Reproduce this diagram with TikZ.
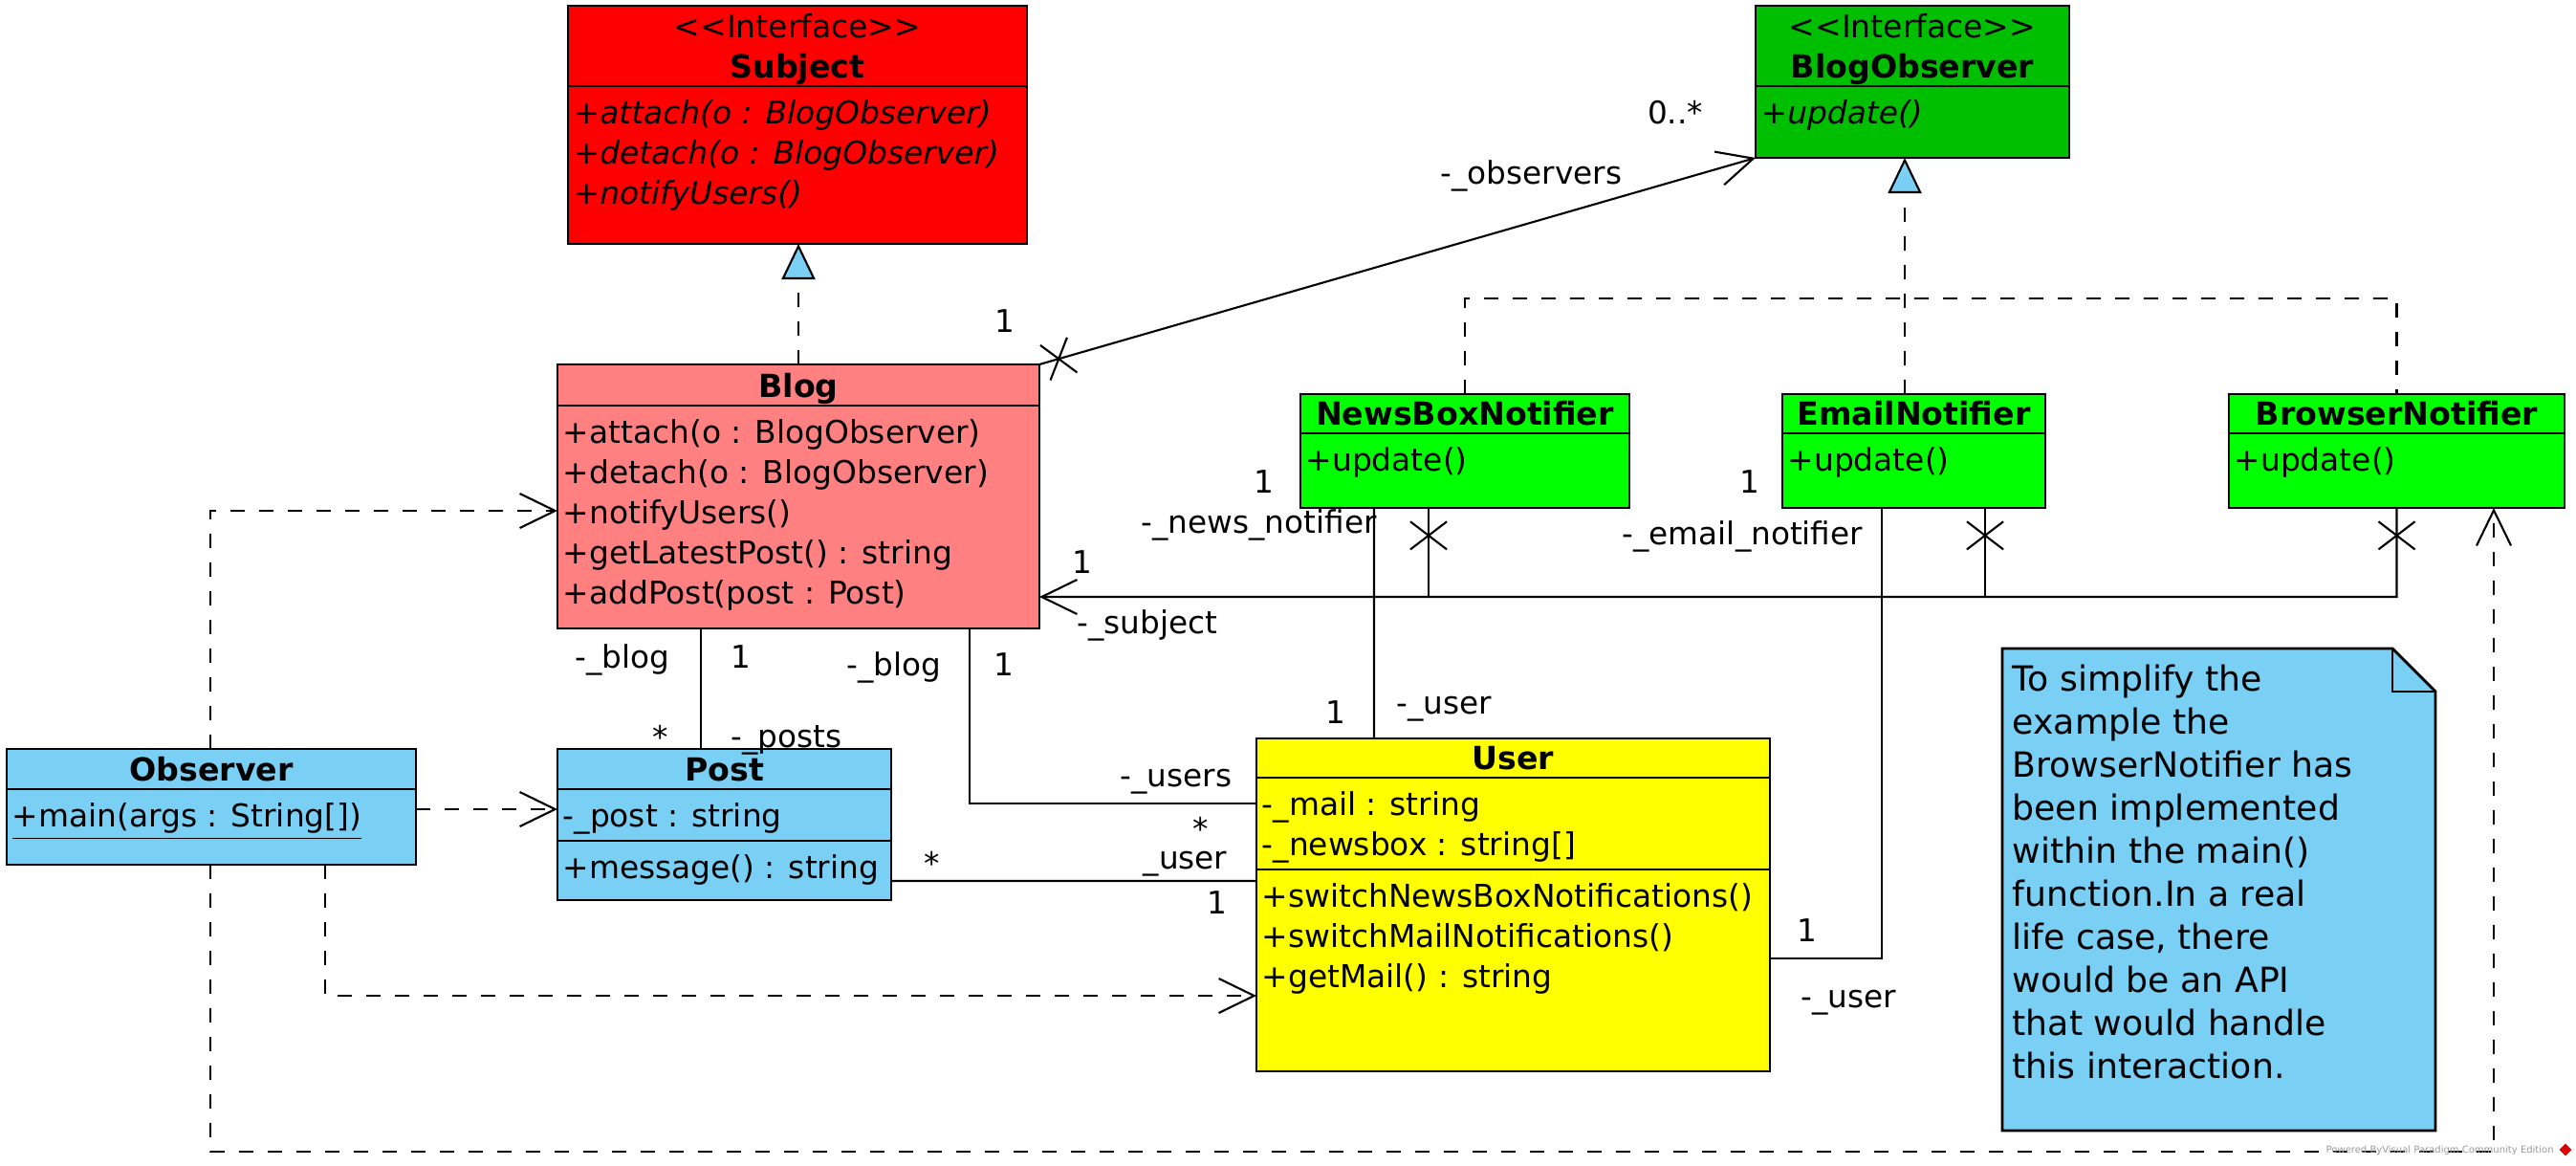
\documentclass[tikz,border=0pt]{standalone}
\usepackage{fontspec}
\usepackage{tikz}
\usepackage{xcolor}
\usetikzlibrary{arrows.meta,shapes.misc}
\newfontfamily\umlfont{DejaVu Sans}
\definecolor{subject-red}{RGB}{255,0,0}
\definecolor{blog-pink}{RGB}{255,128,128}
\definecolor{observer-green}{RGB}{0,191,0}
\definecolor{notifier-green}{RGB}{0,255,0}
\definecolor{user-yellow}{RGB}{255,255,0}
\definecolor{sky-blue}{RGB}{122,207,245}
\tikzset{
    class-box/.style = {draw, line width=0.8pt, rectangle, inner sep=0pt, outer sep=0pt, anchor=north west},
    class-rule/.style = {line width=0.8pt},
    class-title/.style = {font=\umlfont\bfseries\fontsize{9.45}{11.95}\selectfont, anchor=base, inner sep=0pt},
    class-stereo/.style = {font=\umlfont\fontsize{9.4}{11.95}\selectfont, anchor=base, inner sep=0pt},
    class-text/.style = {font=\umlfont\fontsize{9.35}{11.95}\selectfont, align=left, anchor=north west, inner sep=0pt},
    end-label/.style = {font=\umlfont\fontsize{9.3}{11.95}\selectfont, anchor=base, inner sep=0pt},
    role-label/.style = {end-label, anchor=base west},
    note-text/.style = {font=\umlfont\fontsize{10.3}{12.8}\selectfont, align=left, anchor=north west, inner sep=0pt},
    dep-line/.style = {line width=0.6pt, dash pattern=on 0.15cm off 0.15cm, -{Straight Barb[length=3.7mm,width=3.6mm]}},
    real-line/.style = {line width=0.6pt, dash pattern=on 0.15cm off 0.15cm, -{Triangle[length=3.7mm,width=3.5mm,fill=sky-blue]}},
    assoc-line/.style = {line width=0.6pt},
    assoc-arrow/.style = {line width=0.6pt, -{Straight Barb[length=3.7mm,width=3.6mm]}},
    x-end/.style = {draw, cross out, sloped, line width=0.6pt, inner sep=0pt, minimum width=0.27cm, minimum height=0.36cm},
}

\begin{document}
\begin{tikzpicture}
\useasboundingbox (0,0) rectangle (26.94,-12.18);

% interfaces
\node[class-box, fill=subject-red, minimum width=4.80cm, minimum height=2.49cm] (subject) at (5.94,-0.06) {};
\draw[class-rule] ([yshift=-0.84cm]subject.north west) -- ([yshift=-0.84cm]subject.north east);
\node[class-stereo] (subject-stereo) at ([yshift=-0.33cm]subject.north) {<<Interface>>};
\node[class-title] (subject-title) at ([yshift=-0.75cm]subject.north) {Subject};
\node[class-text, font=\umlfont\itshape\fontsize{9.35}{11.95}\selectfont] (subject-ops) at ([shift={(0.05,-0.98)}]subject.north west)
    {+attach(o : BlogObserver)\\+detach(o : BlogObserver)\\+notifyUsers()};

\node[class-box, fill=observer-green, minimum width=3.28cm, minimum height=1.59cm] (blog-observer) at (18.36,-0.06) {};
\draw[class-rule] ([yshift=-0.84cm]blog-observer.north west) -- ([yshift=-0.84cm]blog-observer.north east);
\node[class-stereo] (blog-observer-stereo) at ([yshift=-0.33cm]blog-observer.north) {<<Interface>>};
\node[class-title] (blog-observer-title) at ([yshift=-0.75cm]blog-observer.north) {BlogObserver};
\node[class-text, font=\umlfont\itshape\fontsize{9.35}{11.95}\selectfont] (blog-observer-ops) at ([shift={(0.05,-0.98)}]blog-observer.north west) {+update()};

% blog
\node[class-box, fill=blog-pink, minimum width=5.04cm, minimum height=2.76cm] (blog) at (5.83,-3.81) {};
\draw[class-rule] ([yshift=-0.43cm]blog.north west) -- ([yshift=-0.43cm]blog.north east);
\node[class-title] (blog-title) at ([yshift=-0.34cm]blog.north) {Blog};
\node[class-text] (blog-ops) at ([shift={(0.05,-0.57)}]blog.north west)
    {+attach(o : BlogObserver)\\+detach(o : BlogObserver)\\+notifyUsers()\\+getLatestPost() : string\\+addPost(post : Post)};

% notifiers
\node[class-box, fill=notifier-green, minimum width=3.44cm, minimum height=1.19cm] (news-box) at (13.60,-4.12) {};
\draw[class-rule] ([yshift=-0.41cm]news-box.north west) -- ([yshift=-0.41cm]news-box.north east);
\node[class-title] (news-box-title) at ([yshift=-0.32cm]news-box.north) {NewsBoxNotifier};
\node[class-text] (news-box-ops) at ([shift={(0.05,-0.55)}]news-box.north west) {+update()};

\node[class-box, fill=notifier-green, minimum width=2.75cm, minimum height=1.19cm] (email) at (18.64,-4.12) {};
\draw[class-rule] ([yshift=-0.41cm]email.north west) -- ([yshift=-0.41cm]email.north east);
\node[class-title] (email-title) at ([yshift=-0.32cm]email.north) {EmailNotifier};
\node[class-text] (email-ops) at ([shift={(0.05,-0.55)}]email.north west) {+update()};

\node[class-box, fill=notifier-green, minimum width=3.51cm, minimum height=1.19cm] (browser) at (23.31,-4.12) {};
\draw[class-rule] ([yshift=-0.41cm]browser.north west) -- ([yshift=-0.41cm]browser.north east);
\node[class-title] (browser-title) at ([yshift=-0.32cm]browser.north) {BrowserNotifier};
\node[class-text] (browser-ops) at ([shift={(0.05,-0.55)}]browser.north west) {+update()};

% observer, post, user
\node[class-box, fill=sky-blue, minimum width=4.28cm, minimum height=1.21cm] (observer) at (0.07,-7.83) {};
\draw[class-rule] ([yshift=-0.42cm]observer.north west) -- ([yshift=-0.42cm]observer.north east);
\node[class-title] (observer-title) at ([yshift=-0.33cm]observer.north) {Observer};
\node[class-text] (observer-ops) at ([shift={(0.05,-0.56)}]observer.north west) {\underline{+main(args : String[])}};

\node[class-box, fill=sky-blue, minimum width=3.49cm, minimum height=1.58cm] (post) at (5.83,-7.83) {};
\draw[class-rule] ([yshift=-0.42cm]post.north west) -- ([yshift=-0.42cm]post.north east);
\draw[class-rule] ([yshift=-0.96cm]post.north west) -- ([yshift=-0.96cm]post.north east);
\node[class-title] (post-title) at ([yshift=-0.33cm]post.north) {Post};
\node[class-text] (post-attrs) at ([shift={(0.05,-0.56)}]post.north west) {-\_post : string};
\node[class-text] (post-ops) at ([shift={(0.05,-1.10)}]post.north west) {+message() : string};

\node[class-box, fill=user-yellow, minimum width=5.37cm, minimum height=3.48cm] (user) at (13.14,-7.72) {};
\draw[class-rule] ([yshift=-0.41cm]user.north west) -- ([yshift=-0.41cm]user.north east);
\draw[class-rule] ([yshift=-1.37cm]user.north west) -- ([yshift=-1.37cm]user.north east);
\node[class-title] (user-title) at ([yshift=-0.32cm]user.north) {User};
\node[class-text] (user-attrs) at ([shift={(0.05,-0.55)}]user.north west) {-\_mail : string\\-\_newsbox : string[]};
\node[class-text] (user-ops) at ([shift={(0.05,-1.51)}]user.north west)
    {+switchNewsBoxNotifications()\\+switchMailNotifications()\\+getMail() : string};

% note
\node[minimum width=4.53cm, minimum height=5.04cm, anchor=north west, inner sep=0pt, outer sep=0pt] (note) at (20.94,-6.78) {};
\filldraw[fill=sky-blue, line width=0.8pt] (note.north west) -- ([xshift=-0.45cm]note.north east) -- ([yshift=-0.45cm]note.north east) -- (note.south east) -- (note.south west) -- cycle;
\draw[line width=0.8pt] ([xshift=-0.45cm]note.north east) |- ([yshift=-0.45cm]note.north east);
\node[note-text] (note-body) at ([shift={(0.10,-0.16)}]note.north west)
    {To simplify the\\example the\\BrowserNotifier has\\been implemented\\within the main()\\function.In a real\\life case, there\\would be an API\\that would handle\\this interaction.};

% realizations
\draw[real-line] (blog.north) -- (blog.north |- subject.south);
\coordinate (fork) at (0,-3.12);
\coordinate (email-top) at ([xshift=-0.095cm]email.north);
\draw[line width=0.6pt, dash pattern=on 0.15cm off 0.15cm] (news-box.north) |- (fork -| browser.north) -- (browser.north);
\draw[real-line] (email-top) -- (email-top |- blog-observer.south);

% associations
\draw[assoc-arrow] (blog.north east) -- node[x-end, pos=0.027] {} (blog-observer.south west);
\coordinate (subject-in) at ([yshift=-2.43cm]blog.north east);
\draw[assoc-arrow] (browser.south) -- node[x-end, pos=0.31] {} ++(0,-0.93) -- (subject-in);
\draw[assoc-line] ([xshift=-0.38cm]news-box.south) -- node[x-end, pos=0.31] {} ++(0,-0.93);
\draw[assoc-line] ([xshift=0.745cm]email.south) -- node[x-end, pos=0.31] {} ++(0,-0.93);
\draw[assoc-line] ([xshift=0.77cm]news-box.south west) -- ([xshift=1.23cm]user.north west);
\draw[assoc-line] ([xshift=1.04cm]email.south west) |- ([yshift=-2.30cm]user.north east);
\draw[assoc-line] ([xshift=1.50cm]blog.south west) -- ([xshift=1.50cm]post.north west);
\draw[assoc-line] ([xshift=4.31cm]blog.south west) |- ([yshift=-0.68cm]user.north west);
\draw[assoc-line] ([yshift=-1.38cm]post.north east) -- ([yshift=-1.49cm]user.north west);

% dependencies
\draw[dep-line] ([xshift=2.13cm]observer.north west) |- ([yshift=-1.53cm]blog.north west);
\draw[dep-line] ([yshift=-0.63cm]observer.north east) -- ([yshift=-0.63cm]post.north west);
\draw[dep-line] ([xshift=3.33cm]observer.south west) |- ([yshift=-2.69cm]user.north west);
\draw[dep-line] ([xshift=2.13cm]observer.south west) -- ++(0,-3.00) -| ([xshift=2.77cm]browser.south west);

% association ends
\node[end-label] (observers-mult) at (10.51,-3.47) {1};
\node[role-label] (observers-role) at (15.06,-1.92) {-\_observers};
\node[end-label] (observers-many) at (17.52,-1.29) {0..*};
\node[end-label] (subject-mult) at (11.32,-5.99) {1};
\node[role-label] (subject-role) at (11.26,-6.62) {-\_subject};
\node[end-label] (news-mult) at (13.22,-5.15) {1};
\node[role-label] (news-role) at (11.93,-5.57) {-\_news\_notifier};
\node[end-label] (email-mult) at (18.30,-5.15) {1};
\node[role-label] (email-role) at (16.96,-5.69) {-\_email\_notifier};
\node[end-label] (news-user-mult) at (13.97,-7.56) {1};
\node[role-label] (news-user-role) at (14.60,-7.46) {-\_user};
\node[end-label] (email-user-mult) at (18.90,-9.84) {1};
\node[role-label] (email-user-role) at (18.83,-10.53) {-\_user};
\node[role-label] (post-blog-role) at (6.01,-6.98) {-\_blog};
\node[end-label] (post-blog-mult) at (7.75,-6.98) {1};
\node[end-label] (posts-mult) at (6.91,-7.82) {*};
\node[role-label] (posts-role) at (7.64,-7.81) {-\_posts};
\node[role-label] (user-blog-role) at (8.85,-7.06) {-\_blog};
\node[end-label] (user-blog-mult) at (10.50,-7.06) {1};
\node[role-label] (users-role) at (11.71,-8.22) {-\_users};
\node[end-label] (users-mult) at (12.56,-8.78) {*};
\node[role-label] (post-user-role) at (11.95,-9.08) {\_user};
\node[end-label] (post-user-mult) at (12.73,-9.55) {1};
\node[end-label] (user-post-mult) at (9.75,-9.14) {*};

% watermark
\node[font=\umlfont\fontsize{2.85}{3}\selectfont, text=gray!80, anchor=base west, inner sep=0pt] (watermark) at (24.32,-12.05) {Powered ByVisual Paradigm Community Edition};
\node[fill=red!85!black, rotate=45, minimum size=0.09cm, inner sep=0pt] (vp-logo) at (26.83,-12.02) {};
\end{tikzpicture}
\end{document}
